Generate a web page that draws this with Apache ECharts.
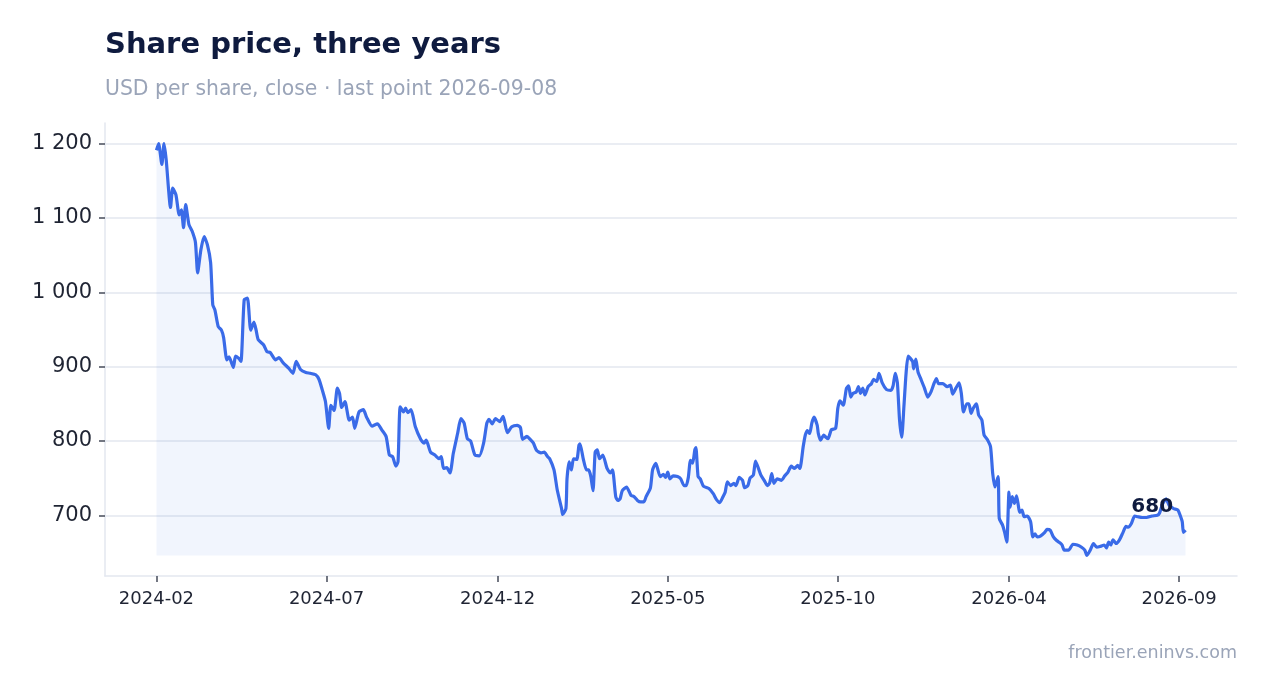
<!DOCTYPE html>
<html>
<head>
<meta charset="utf-8">
<title>Share price, three years</title>
<script src="https://cdn.jsdelivr.net/npm/echarts@6/dist/echarts.min.js"></script>
<style>
  html, body { margin: 0; padding: 0; background: #fff; }
  #chart { width: 1267px; height: 693px; }
</style>
</head>
<body>
<div id="chart"></div>
<script>
// close prices, day offsets counted from the first close
var startDate = Date.UTC(2024, 1, 1);
var dayOffsets = [
  0, 2, 5, 7, 9, 13, 15, 18, 21, 23, 25, 27, 30, 33, 36, 38, 41, 44, 47, 50,
  52, 54, 57, 60, 62, 65, 67, 71, 73, 76, 78, 81, 84, 87, 90, 92, 94, 99, 102, 105,
  110, 113, 117, 122, 126, 129, 133, 138, 142, 147, 150, 153, 156, 159, 161, 164, 167, 169, 171, 174,
  178, 181, 183, 187, 191, 194, 199, 204, 208, 212, 215, 218, 221, 223, 225, 228, 230, 232, 235, 239,
  244, 247, 249, 253, 257, 261, 263, 265, 268, 271, 274, 278, 281, 284, 287, 290, 294, 298, 302, 305,
  307, 310, 313, 317, 320, 324, 328, 333, 336, 338, 342, 345, 348, 351, 355, 358, 361, 363, 367, 370,
  374, 375, 378, 379, 381, 383, 385, 388, 390, 391, 394, 397, 399, 401, 403, 405, 407, 409, 412, 416,
  419, 421, 424, 426, 428, 430, 434, 438, 441, 444, 447, 450, 452, 456, 458, 461, 465, 468, 470, 472,
  474, 477, 481, 484, 487, 489, 491, 493, 495, 497, 498, 500, 502, 505, 510, 514, 517, 520, 523, 525,
  527, 530, 533, 535, 538, 541, 543, 546, 548, 551, 553, 555, 558, 561, 564, 566, 568, 570, 573, 577,
  580, 583, 586, 589, 592, 594, 597, 599, 601, 603, 605, 607, 610, 611, 613, 616, 618, 620, 623, 627,
  629, 631, 634, 637, 639, 641, 643, 646, 648, 650, 652, 654, 657, 660, 662, 665, 667, 670, 674, 678,
  680, 682, 684, 686, 688, 690, 692, 694, 698, 699, 701, 703, 706, 709, 712, 715, 718, 720, 722, 726,
  730, 733, 735, 738, 741, 743, 745, 748, 750, 752, 754, 757, 759, 762, 764, 767, 770, 772, 774, 777,
  778, 781, 783, 785, 787, 788, 790, 792, 794, 797, 799, 801, 804, 807, 809, 811, 813, 816, 820, 822,
  825, 828, 831, 834, 836, 838, 842, 846, 850, 854, 857, 859, 862, 865, 868, 871, 875, 877, 879, 881,
  883, 886, 889, 892, 895, 897, 900, 903, 906, 910, 914, 919, 924, 926, 929, 932, 935, 939, 943, 945,
  947, 948, 950
];
var closes = [
  1191, 1200, 1172, 1200, 1178, 1114, 1140, 1131, 1104, 1111, 1087, 1118, 1091, 1082, 1067, 1026, 1057, 1075, 1064, 1040,
  983, 976, 954, 949, 939, 909, 913, 899, 914, 911, 907, 990, 992, 949, 960, 949, 936, 929, 920, 919,
  909, 912, 905, 898, 891, 907, 896, 892, 891, 889, 883, 869, 853, 817, 848, 841, 871, 864, 845, 853,
  828, 832, 817, 839, 842, 832, 820, 823, 815, 806, 781, 779, 766, 772, 846, 839, 844, 838, 842, 819,
  802, 797, 801, 785, 781, 776, 779, 763, 764, 757, 783, 810, 830, 824, 803, 800, 781, 780, 797, 824,
  829, 823, 830, 826, 833, 811, 819, 821, 818, 802, 806, 802, 797, 787, 784, 785, 779, 776, 761, 734,
  709, 701, 709, 749, 772, 761, 776, 775, 794, 796, 776, 761, 761, 752, 733, 785, 788, 776, 781, 763,
  757, 761, 725, 720, 722, 733, 738, 727, 725, 720, 718, 718, 725, 737, 761, 770, 752, 755, 751, 758,
  749, 753, 752, 749, 740, 740, 751, 774, 770, 788, 791, 752, 749, 739, 736, 729, 721, 717, 725, 731,
  745, 740, 743, 740, 751, 747, 737, 740, 750, 754, 773, 766, 754, 747, 740, 743, 756, 743, 749, 747,
  753, 758, 766, 763, 767, 763, 792, 808, 814, 810, 824, 832, 821, 810, 801, 808, 805, 803, 815, 817,
  844, 854, 848, 871, 874, 859, 864, 866, 873, 864, 871, 862, 873, 877, 883, 880, 891, 878, 869, 868,
  874, 891, 878, 828, 805, 846, 891, 914, 907, 897, 910, 893, 882, 871, 859, 866, 878, 884, 877, 877,
  873, 875, 863, 871, 878, 864, 839, 850, 850, 837, 844, 850, 835, 828, 808, 802, 792, 756, 738, 752,
  696, 687, 677, 664, 731, 711, 725, 716, 726, 704, 707, 698, 699, 691, 671, 675, 671, 672, 677, 681,
  680, 671, 666, 663, 660, 653, 653, 661, 660, 657, 653, 646, 653, 662, 657, 658, 660, 656, 664, 660,
  667, 662, 667, 676, 685, 684, 689, 699, 698, 697, 697, 699, 700, 703, 716, 722, 713, 709, 707, 700,
  691, 677, 680
];
// x tick positions (days from first close) and their labels
var tickDays = [0, 157, 315, 472, 629, 787, 944];
var tickLabels = ['2024-02', '2024-07', '2024-12', '2025-05', '2025-10', '2026-04', '2026-09'];
var yTicks = [700, 800, 900, 1000, 1100, 1200];

var DAY = 86400000;
var seriesData = dayOffsets.map(function (d, i) {
  return [startDate + d * DAY, closes[i]];
});
var tickTimes = tickDays.map(function (d) { return startDate + d * DAY; });

var xFirst = seriesData[0][0];
var xLast = seriesData[seriesData.length - 1][0];
var xPad = (xLast - xFirst) * 0.05;
var yMinData = Math.min.apply(null, closes);
var yMaxData = Math.max.apply(null, closes);
var yPad = (yMaxData - yMinData) * 0.05;
var last = seriesData[seriesData.length - 1];

function spaced(v) {
  return String(v).replace(/\B(?=(\d{3})+(?!\d))/g, ' ');
}
function tickLabelFor(v) {
  for (var i = 0; i < tickTimes.length; i++) {
    if (Math.abs(tickTimes[i] - v) < DAY / 2) return tickLabels[i];
  }
  return '';
}

var chart = echarts.init(document.getElementById('chart'));
var option = {
  animation: false,
  backgroundColor: '#ffffff',
  textStyle: { fontFamily: 'DejaVu Sans' },
  title: [
    {
      text: 'Share price, three years',
      left: 105,
      top: 31,
      padding: 0,
      textStyle: { fontSize: 29, fontWeight: 'bold', color: '#0f1b3f', fontFamily: 'DejaVu Sans' }
    },
    {
      text: 'USD per share, close · last point 2026-09-08',
      left: 105,
      top: 80,
      padding: 0,
      textStyle: { fontSize: 20.4, fontWeight: 'normal', color: '#9aa4b8', fontFamily: 'DejaVu Sans' }
    },
    {
      text: 'frontier.eninvs.com',
      right: 30,
      top: 644,
      padding: 0,
      textStyle: { fontSize: 17.5, fontWeight: 'normal', color: '#9aa4b8', fontFamily: 'DejaVu Sans' }
    }
  ],
  grid: { left: 105, right: 30, top: 123, bottom: 117, containLabel: false },
  xAxis: {
    type: 'value',
    min: xFirst - xPad,
    max: xLast + xPad,
    axisLine: { show: true, lineStyle: { color: '#e3e7ef', width: 1.5 } },
    axisTick: { show: true, length: 6, customValues: tickTimes, lineStyle: { color: '#454b5a', width: 1.5 } },
    axisLabel: {
      customValues: tickTimes,
      margin: 14,
      fontSize: 18,
      color: '#1f2433',
      fontFamily: 'DejaVu Sans',
      formatter: function (v) { return tickLabelFor(v); }
    },
    splitLine: { show: false }
  },
  yAxis: {
    type: 'value',
    min: yMinData - yPad,
    max: yMaxData + yPad,
    axisLine: { show: true, lineStyle: { color: '#e3e7ef', width: 1.5 } },
    axisTick: { show: true, length: 6, customValues: yTicks, lineStyle: { color: '#454b5a', width: 1.5 } },
    axisLabel: {
      customValues: yTicks,
      margin: 13,
      fontSize: 21,
      padding: [3, 0, 0, 0],
      color: '#1f2433',
      fontFamily: 'DejaVu Sans',
      formatter: function (v) { return spaced(v); }
    },
    splitLine: { show: true, lineStyle: { color: '#e3e7ef', width: 1.5 } }
  },
  series: [
    {
      name: 'Close',
      type: 'line',
      data: seriesData,
      symbol: 'none',
      smooth: 0.2,
      lineStyle: { color: '#3a6be8', width: 3.2 },
      itemStyle: { color: '#3a6be8' },
      areaStyle: { color: 'rgba(58,107,232,0.1)', origin: yMinData },
      markPoint: {
        symbol: 'circle',
        symbolSize: 1,
        itemStyle: { color: 'rgba(0,0,0,0)' },
        label: {
          show: true,
          position: 'left',
          distance: 12,
          offset: [0, -23],
          fontSize: 20,
          fontWeight: 'bold',
          color: '#0f1b3f',
          fontFamily: 'DejaVu Sans',
          formatter: function (p) { return String(p.value); }
        },
        data: [{ coord: last, value: last[1] }]
      }
    }
  ]
};
chart.setOption(option);
</script>
</body>
</html>
